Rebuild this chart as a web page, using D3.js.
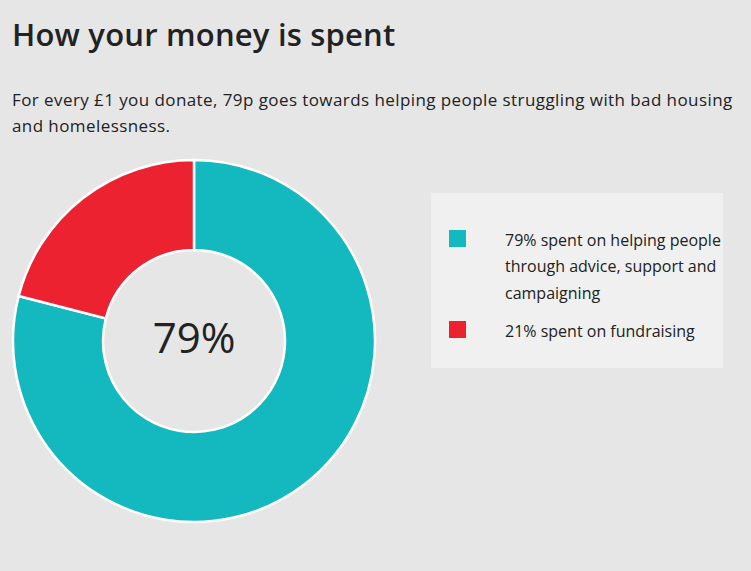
<!DOCTYPE html>
<html>
<head>
<meta charset="utf-8">
<script src="https://cdn.jsdelivr.net/npm/d3@7"></script>
<style>
  html, body { margin: 0; padding: 0; background: #e6e6e6; }
  svg { display: block; }
  text { font-family: "Open Sans", "Noto Sans", sans-serif; fill: #222; }
</style>
</head>
<body>
<svg id="chart" width="751" height="571"></svg>
<script>
const categories = ["Helping people", "Fundraising"];
const values = [79, 21];
const colors = ["#13b9be", "#ec2230"];
const legendLines = [
  ["79% spent on helping people", "through advice, support and", "campaigning"],
  ["21% spent on fundraising"]
];
const titleText = "How your money is spent";
const introLines = [
  "For every £1 you donate, 79p goes towards helping people struggling with bad housing",
  "and homelessness."
];
const centreLabel = values[0] + "%";

const svg = d3.select("#chart");
svg.append("rect").attr("width", 751).attr("height", 571).attr("fill", "#e6e6e6");

// heading and intro
svg.append("text")
  .attr("x", 12).attr("y", 46)
  .style("font-size", "31px").style("font-weight", 600)
  .style("letter-spacing", "0.2px")
  .text(titleText);

const intro = svg.append("text").style("font-size", "17px").style("letter-spacing", "0.42px");
introLines.forEach((t, i) => {
  intro.append("tspan").attr("x", 12).attr("y", 106 + i * 26).text(t);
});

// donut
const cx = 194, cy = 341, outerR = 181, innerR = 91;
const pie = d3.pie().sort(null).value(d => d)(values);
const arc = d3.arc().innerRadius(innerR).outerRadius(outerR);
const g = svg.append("g").attr("transform", `translate(${cx},${cy})`);
g.selectAll("path")
  .data(pie)
  .join("path")
  .attr("d", arc)
  .attr("fill", (d, i) => colors[i])
  .attr("stroke", "#ffffff")
  .attr("stroke-width", 2.5)
  .attr("stroke-linejoin", "miter");

g.append("text")
  .attr("text-anchor", "middle")
  .attr("y", 12)
  .style("font-size", "42px").style("font-weight", 500)
  .text(centreLabel);

// legend panel
const legend = svg.append("g");
legend.append("rect")
  .attr("x", 431).attr("y", 193).attr("width", 292).attr("height", 175)
  .attr("fill", "#f0f0f0");

const rowTop = [230, 321];
categories.forEach((c, i) => {
  legend.append("rect")
    .attr("x", 449).attr("y", rowTop[i]).attr("width", 17).attr("height", 17)
    .attr("fill", colors[i]);
  const t = legend.append("text").style("font-size", "16px");
  legendLines[i].forEach((line, j) => {
    t.append("tspan").attr("x", 505).attr("y", rowTop[i] + 15.5 + j * 26.5).text(line);
  });
});
</script>
</body>
</html>
